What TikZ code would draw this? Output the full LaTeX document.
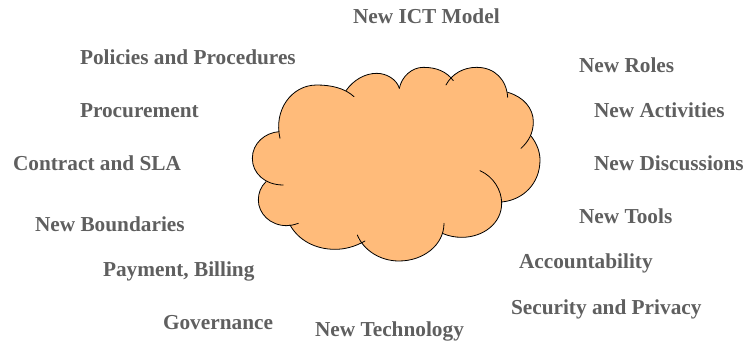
\documentclass[tikz,border=0pt]{standalone}
\usepackage{fontspec}
\setmainfont{Liberation Serif}
\definecolor{lbl}{RGB}{95,95,95}
\definecolor{cloudfill}{RGB}{255,187,122}
\tikzset{
 lab/.style={anchor=base west,inner sep=0pt,outer sep=0pt,text=lbl,font=\fontsize{21.3pt}{24pt}\selectfont\bfseries},
 arcline/.style={draw=black,line width=0.8pt,line cap=round},
}
\begin{document}
\begin{tikzpicture}[x=1pt,y=1pt]
\useasboundingbox (0,0) rectangle (746,341);
\begin{scope}[shift={(240,281)},x=0.33333pt,y=-0.33333pt]
\fill[cloudfill] (115,215) -- (230,75) -- (318,92) -- (410,40) -- (478,85) -- (550,22) -- (632,52) -- (710,22) -- (803,97) -- (880,185) -- (873,228) -- (900,300) -- (785,426) -- (665,532) -- (607,520) -- (477,603) -- (362,535) -- (285,568) -- (150,495) -- (55,420) -- (78,365) -- (37,295) -- cycle;
\def\aA{(120,235) .. controls (100,150) and (155,75) .. (230,75) .. controls (275,75) and (315,85) .. (342,110)}
\def\aB{(318,92) .. controls (340,60) and (375,40) .. (410,40) .. controls (440,40) and (470,58) .. (478,85)}
\def\aC{(478,85) .. controls (485,50) and (515,22) .. (550,22) .. controls (590,22) and (620,35) .. (640,62)}
\def\aD{(618,75) .. controls (635,42) and (670,22) .. (710,22) .. controls (765,22) and (800,60) .. (803,112)}
\def\aE{(803,97) .. controls (850,110) and (880,145) .. (880,185) .. controls (880,220) and (865,245) .. (843,265)}
\def\aF{(873,228) .. controls (890,250) and (900,275) .. (900,300) .. controls (900,370) and (850,420) .. (785,426)}
\def\aG{(720,332) .. controls (760,350) and (785,390) .. (785,430) .. controls (785,490) and (730,532) .. (665,532) .. controls (645,532) and (625,528) .. (607,520)}
\def\aH{(612,490) .. controls (612,555) and (550,603) .. (477,603) .. controls (420,603) and (370,570) .. (352,525)}
\def\aI{(375,543) .. controls (345,560) and (315,568) .. (285,568) .. controls (225,568) and (175,540) .. (150,495)}
\def\aJ{(175,490) .. controls (160,495) and (150,497) .. (140,497) .. controls (90,497) and (55,460) .. (55,420) .. controls (55,400) and (62,380) .. (78,365)}
\def\aK{(130,375) .. controls (75,375) and (37,340) .. (37,295) .. controls (37,250) and (75,218) .. (117,215)}
\foreach \a in {\aA,\aB,\aC,\aD,\aE,\aF,\aG,\aH,\aI,\aJ,\aK}{
  \fill[cloudfill] \a -- cycle;
}
\foreach \a in {\aA,\aB,\aC,\aD,\aE,\aF,\aG,\aH,\aI,\aJ,\aK}{
  \path[arcline] \a;
}
\end{scope}
\node[lab] (a) at (353,341-24) {New ICT Model};
\node[lab] (b) at (80,341-64) {Policies and Procedures};
\node[lab] (c) at (579,341-72) {New Roles};
\node[lab] (d) at (80,341-117) {Procurement};
\node[lab] (e) at (594,341-117) {New Activities};
\node[lab] (f) at (13,341-170) {Contract and SLA};
\node[lab] (g) at (594,341-170) {New Discussions};
\node[lab] (h) at (579,341-223) {New Tools};
\node[lab] (i) at (35,341-231) {New Boundaries};
\node[lab] (j) at (519,341-268) {Accountability};
\node[lab] (k) at (103,341-276) {Payment, Billing};
\node[lab] (l) at (511,341-314) {Security and Privacy};
\node[lab] (m) at (163,341-329) {Governance};
\node[lab] (n) at (315,341-336) {New Technology};
\end{tikzpicture}
\end{document}
